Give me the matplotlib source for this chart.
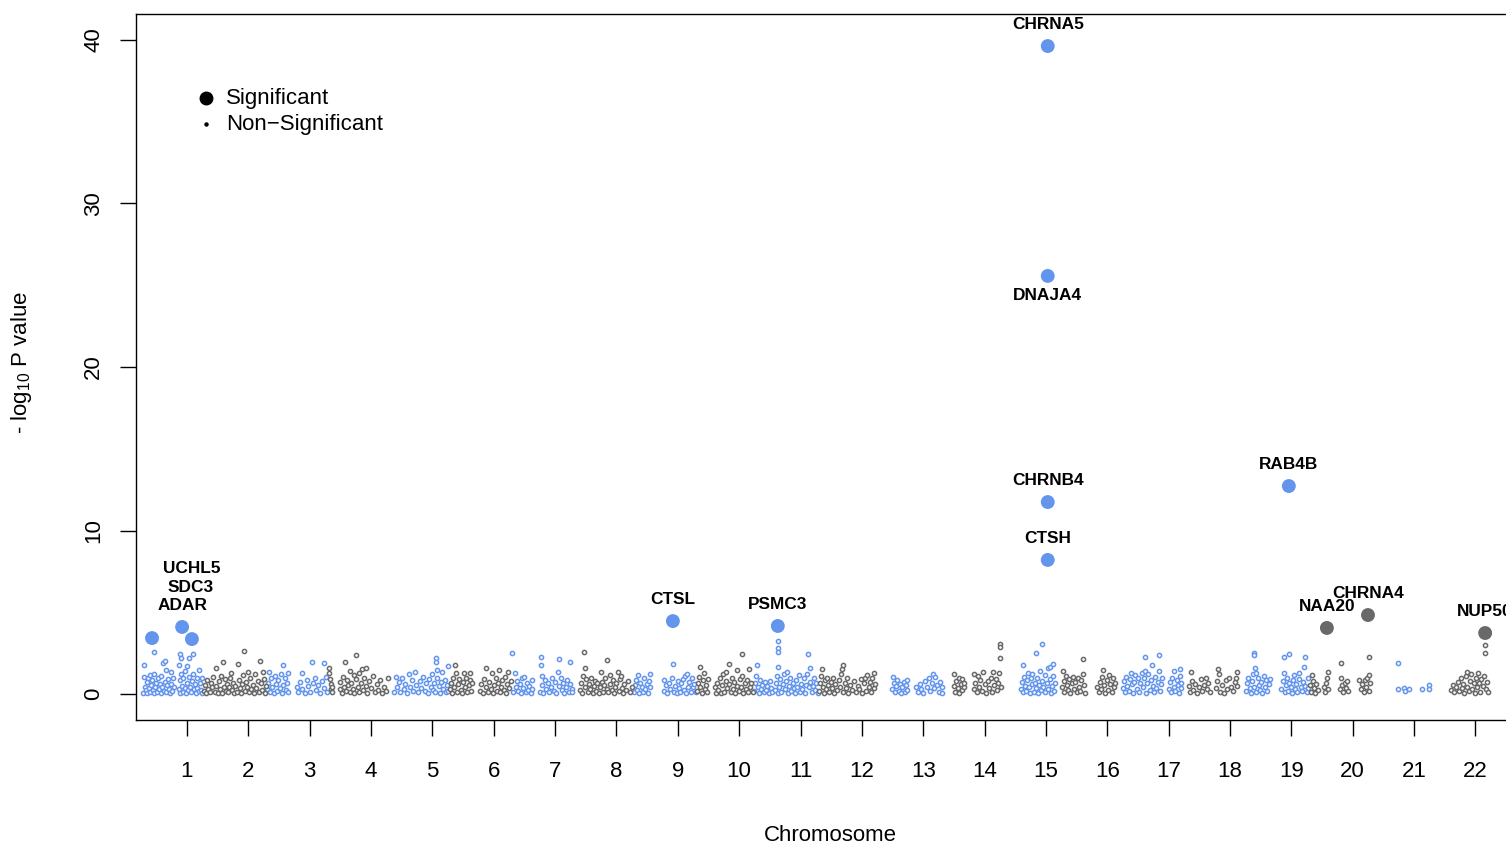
import matplotlib.pyplot as plt
import numpy as np

plt.rcParams['font.family'] = ['Liberation Sans', 'DejaVu Sans']
plt.rcParams['mathtext.fontset'] = 'custom'
plt.rcParams['mathtext.rm'] = 'Liberation Sans'
plt.rcParams['mathtext.default'] = 'regular'

BLUE = '#6495ED'
GREY = '#696969'

chromosomes = list(range(1, 23))
y_ticks = [0, 10, 20, 30, 40]

# non-significant SNPs: (position on chromosome axis, -log10 p)
blue_snps = [
    (0.29,0.08),(0.30,1.06),(0.30,1.78),(0.31,0.45),(0.33,0.22),(0.34,0.72),(0.35,0.05),(0.36,0.95),(0.38,0.35),(0.39,1.15),
    (0.40,0.12),(0.41,0.58),(0.43,0.85),(0.44,0.25),(0.46,2.55),(0.46,0.05),(0.47,1.20),(0.48,0.42),(0.50,0.70),(0.51,0.15),
    (0.53,0.98),(0.54,0.30),(0.56,0.60),(0.57,0.08),(0.58,1.12),(0.60,0.40),(0.61,1.88),(0.62,0.20),(0.64,2.04),(0.64,0.75),
    (0.65,1.47),(0.66,0.10),(0.68,0.52),(0.69,0.90),(0.71,0.28),(0.72,0.05),(0.74,1.37),(0.74,0.62),(0.76,0.18),(0.77,0.95),(0.78,0.40),
    (0.87,1.78),(0.87,0.30),(0.88,0.85),(0.89,2.43),(0.89,0.08),(0.90,2.18),(0.91,1.20),(0.92,0.50),(0.93,0.15),(0.94,0.95),
    (0.96,0.35),(0.97,1.40),(0.98,0.05),(1.00,1.71),(1.00,0.65),(1.02,0.22),(1.03,1.05),(1.04,2.18),(1.05,0.45),(1.07,0.10),
    (1.08,0.80),(1.10,2.43),(1.10,1.25),(1.11,0.30),(1.13,0.60),(1.14,0.05),(1.16,1.00),(1.17,0.38),(1.19,0.18),(1.20,1.47),
    (1.21,0.70),(1.23,0.25),(1.24,0.95),(1.25,0.08),
    (2.30,0.30),(2.32,0.70),(2.34,1.37),(2.35,0.10),(2.37,0.95),(2.39,0.45),(2.41,0.05),(2.43,1.10),(2.45,0.60),(2.47,0.20),
    (2.49,0.85),(2.51,0.35),(2.53,1.20),(2.55,0.08),(2.56,1.78),(2.57,0.55),(2.59,0.95),(2.61,0.25),(2.63,0.70),(2.65,1.27),(2.65,0.10),
    (2.79,0.40),(2.81,0.10),(2.84,0.75),(2.87,1.27),(2.88,0.30),(2.92,0.05),(2.95,0.85),(2.98,0.50),(3.01,0.15),(3.04,1.98),
    (3.05,0.65),(3.08,0.95),(3.11,0.25),(3.14,0.55),(3.17,0.08),(3.20,0.80),(3.23,1.88),(3.24,0.35),(3.27,1.05),(3.29,0.12),
    (4.38,0.10),(4.40,1.06),(4.42,0.40),(4.45,0.75),(4.48,0.15),(4.50,0.95),(4.53,0.30),(4.56,0.60),(4.59,0.05),(4.62,1.23),
    (4.63,0.45),(4.66,0.85),(4.69,0.20),(4.72,1.37),(4.73,0.55),(4.76,0.10),(4.79,0.80),(4.82,0.35),(4.85,1.05),(4.88,0.18),
    (4.90,0.65),(4.93,0.08),(4.95,0.90),(4.97,0.40),(4.99,1.20),(5.01,0.25),(5.03,0.70),(5.05,0.12),(5.06,2.18),(5.06,1.94),
    (5.07,1.45),(5.08,0.95),(5.10,0.50),(5.12,0.05),(5.14,0.75),(5.16,1.33),(5.18,0.30),(5.20,0.85),(5.22,0.10),(5.24,0.55),
    (5.26,1.74),(5.26,0.20),
    (6.30,2.53),(6.32,0.10),(6.34,1.30),(6.36,0.45),(6.38,0.80),(6.40,0.20),(6.42,0.60),(6.44,0.05),(6.46,0.95),(6.48,0.35),
    (6.50,1.06),(6.52,0.15),(6.54,0.70),(6.56,0.25),(6.58,0.50),(6.60,0.08),(6.62,0.85),(6.63,0.30),
    (6.75,0.15),(6.77,2.25),(6.77,1.78),(6.78,1.10),(6.79,0.55),(6.81,0.05),(6.83,0.85),(6.85,0.30),(6.88,0.65),(6.90,0.10),
    (6.93,0.45),(6.95,1.00),(6.98,0.20),(7.00,0.75),(7.02,0.08),(7.04,1.33),(7.06,2.14),(7.07,0.50),(7.09,0.95),(7.11,0.25),
    (7.13,0.65),(7.15,0.05),(7.18,0.40),(7.20,0.85),(7.22,0.15),(7.24,1.98),(7.25,0.60),(7.27,0.30),(7.28,0.10),
    (8.28,0.10),(8.30,0.55),(8.32,0.85),(8.34,0.25),(8.35,1.17),(8.37,0.05),(8.39,0.70),(8.41,0.40),(8.43,0.15),(8.45,0.95),
    (8.47,0.30),(8.49,0.60),(8.51,0.08),(8.53,0.80),(8.55,1.21),(8.55,0.45),
    (8.77,0.86),(8.78,0.20),(8.80,0.55),(8.83,0.08),(8.85,0.70),(8.88,0.30),(8.90,0.95),(8.92,1.82),(8.93,0.15),(8.95,0.50),
    (8.98,0.05),(9.00,0.80),(9.02,0.35),(9.04,0.10),(9.06,0.65),(9.08,0.90),(9.10,0.25),(9.12,1.10),(9.13,0.05),(9.15,1.23),
    (9.17,0.45),(9.19,0.75),(9.21,0.15),(9.23,0.95),(9.25,0.40),(9.27,0.60),(9.29,0.10),
    (10.24,0.20),(10.26,0.65),(10.28,1.10),(10.29,1.76),(10.30,0.40),(10.32,0.08),(10.34,0.85),(10.36,0.30),(10.38,0.55),
    (10.40,0.12),(10.42,0.75),(10.44,0.25),(10.46,0.50),(10.48,0.05),(10.50,0.80),(10.52,0.35),(10.54,0.15),
    (10.58,0.25),(10.60,0.70),(10.62,1.10),(10.63,3.25),(10.63,2.84),(10.63,2.55),(10.63,1.68),(10.64,0.05),(10.65,0.45),
    (10.67,0.90),(10.69,0.15),(10.71,0.60),(10.73,1.20),(10.75,0.30),(10.77,0.80),(10.78,1.33),(10.79,0.08),(10.81,0.50),
    (10.83,1.00),(10.85,0.20),(10.87,0.70),(10.89,0.35),(10.91,0.05),(10.93,0.85),(10.95,0.45),(10.97,1.15),(10.99,0.15),
    (11.01,0.60),(11.03,0.30),(11.05,0.95),(11.07,0.08),(11.09,0.55),(11.11,1.25),(11.12,2.45),(11.14,0.40),(11.15,1.61),
    (11.16,0.75),(11.18,0.10),(11.20,0.50),(11.22,1.00),(11.24,0.25),(11.26,0.65),(11.28,0.05),
    (12.49,0.30),(12.51,1.02),(12.52,0.70),(12.54,0.10),(12.56,0.50),(12.58,0.85),(12.60,0.20),(12.62,0.60),(12.64,0.05),
    (12.66,0.40),(12.68,0.75),(12.70,0.15),(12.72,0.55),(12.73,0.85),(12.74,0.25),
    (12.89,0.40),(12.91,0.15),(12.94,0.60),(12.97,0.30),(13.00,0.05),(13.03,0.80),(13.06,0.45),(13.09,1.00),(13.11,0.20),
    (13.14,0.70),(13.16,1.23),(13.18,0.35),(13.20,1.05),(13.22,0.55),(13.25,0.10),(13.28,0.75),(13.30,0.40),(13.31,0.08),
    (14.60,0.30),(14.61,0.75),(14.62,1.78),(14.63,0.10),(14.65,1.05),(14.66,0.50),(14.68,0.20),(14.70,0.85),(14.71,1.30),
    (14.72,0.40),(14.74,0.05),(14.75,0.95),(14.77,0.60),(14.78,1.20),(14.80,0.15),(14.82,0.70),(14.84,2.53),(14.84,0.35),
    (14.86,1.00),(14.87,0.08),(14.89,0.55),(14.90,1.40),(14.92,0.25),(14.94,3.06),(14.94,0.80),(14.96,0.45),(14.98,1.15),
    (14.99,0.10),(15.01,0.65),(15.03,1.57),(15.04,0.30),(15.06,0.90),(15.07,1.67),(15.08,0.05),(15.10,0.50),(15.11,1.84),
    (15.12,1.10),(15.13,0.20),(15.15,0.70),
    (16.25,0.35),(16.27,0.80),(16.29,0.10),(16.31,1.05),(16.33,0.50),(16.35,0.20),(16.37,0.90),(16.39,1.27),(16.40,0.60),
    (16.42,0.05),(16.44,0.75),(16.46,1.15),(16.48,0.30),(16.50,0.95),(16.52,0.15),(16.54,0.65),(16.56,1.30),(16.58,0.40),
    (16.60,1.00),(16.62,2.24),(16.62,1.43),(16.63,0.08),(16.65,0.70),(16.67,1.20),(16.69,0.25),(16.71,0.85),(16.73,1.78),
    (16.74,0.50),(16.76,0.10),(16.78,1.05),(16.80,0.35),(16.82,0.75),(16.84,2.39),(16.84,1.40),(16.86,0.20),(16.88,0.60),(16.90,0.95),
    (17.00,0.30),(17.02,0.75),(17.04,0.10),(17.06,1.00),(17.08,0.45),(17.09,1.43),(17.11,0.20),(17.13,0.85),(17.15,0.55),
    (17.17,0.05),(17.18,1.51),(17.19,1.10),(17.20,0.35),(17.21,0.70),
    (18.26,0.20),(18.28,0.65),(18.30,1.00),(18.32,0.35),(18.34,0.08),(18.36,0.80),(18.38,1.20),(18.39,0.45),(18.40,2.49),
    (18.40,2.39),(18.41,1.57),(18.42,1.30),(18.43,0.15),(18.45,0.95),(18.47,0.55),(18.49,0.25),(18.51,0.75),(18.53,0.05),
    (18.55,1.10),(18.57,0.40),(18.59,0.85),(18.61,0.20),(18.63,0.60),(18.65,0.90),
    (18.84,0.30),(18.86,0.80),(18.88,2.24),(18.88,1.27),(18.89,0.10),(18.91,0.55),(18.93,1.00),(18.95,0.20),(18.96,2.45),
    (18.97,0.70),(18.99,0.40),(19.01,0.05),(19.03,0.85),(19.05,1.15),(19.06,0.30),(19.08,0.60),(19.10,0.12),(19.12,1.27),
    (19.13,0.90),(19.15,0.45),(19.17,0.20),(19.19,0.75),(19.21,1.67),(19.22,2.24),(19.23,0.50),(19.25,0.10),(19.27,0.95),(19.28,0.35),
    (20.74,1.88),(20.74,0.29),(20.84,0.35),(20.85,0.20),(20.92,0.30),(21.13,0.29),(21.24,0.55),(21.24,0.29),
]

grey_snps = [
    (1.28,0.20),(1.30,0.55),(1.31,0.05),(1.33,0.86),(1.35,0.30),(1.37,0.10),(1.39,0.65),(1.41,0.40),(1.43,1.05),(1.45,0.15),
    (1.47,1.57),(1.48,0.50),(1.50,0.08),(1.52,0.78),(1.54,0.30),(1.56,1.10),(1.57,0.05),(1.59,1.98),(1.60,0.45),(1.62,0.90),
    (1.63,0.20),(1.65,0.62),(1.67,0.10),(1.69,0.40),(1.70,1.00),(1.72,1.27),(1.73,0.25),(1.75,0.70),(1.77,0.05),(1.79,0.48),
    (1.81,0.15),(1.83,1.84),(1.84,0.85),(1.86,0.35),(1.88,0.08),(1.90,0.60),(1.92,1.15),(1.93,2.65),(1.94,0.20),(1.96,0.75),
    (1.98,0.42),(1.99,1.37),(2.01,0.10),(2.03,0.95),(2.05,0.30),(2.07,0.58),(2.09,0.05),(2.11,1.20),(2.13,0.38),(2.15,0.80),
    (2.17,0.15),(2.19,2.04),(2.20,0.65),(2.22,0.25),(2.24,1.37),(2.25,0.90),(2.27,0.08),(2.28,0.50),
    (3.31,1.60),(3.32,1.30),(3.33,0.90),(3.34,0.60),(3.35,0.30),(3.36,0.10),(3.37,0.45),
    (3.49,0.30),(3.50,0.75),(3.52,0.08),(3.54,1.05),(3.56,0.45),(3.58,1.98),(3.59,0.20),(3.61,0.85),(3.63,0.55),(3.65,1.40),
    (3.66,0.10),(3.68,0.65),(3.70,0.30),(3.72,1.15),(3.73,0.05),(3.75,2.37),(3.76,0.90),(3.78,0.40),(3.80,1.30),(3.81,0.15),
    (3.83,0.70),(3.85,1.55),(3.87,0.25),(3.89,1.00),(3.91,0.50),(3.92,1.60),(3.94,0.08),(3.97,0.80),(4.00,0.35),(4.03,1.10),
    (4.06,0.12),(4.09,0.60),(4.12,0.25),(4.15,0.85),(4.18,0.05),(4.21,0.45),(4.24,0.20),(4.28,0.97),
    (5.28,0.30),(5.30,0.70),(5.32,0.08),(5.34,0.95),(5.36,0.45),(5.37,1.78),(5.38,1.27),(5.40,0.15),(5.42,0.60),(5.44,0.90),
    (5.46,0.25),(5.48,0.05),(5.50,0.75),(5.52,1.29),(5.53,0.40),(5.55,1.00),(5.57,0.12),(5.59,0.55),(5.61,0.85),(5.62,1.29),
    (5.63,0.20),(5.65,0.65),
    (5.77,0.20),(5.79,0.60),(5.82,0.08),(5.84,0.90),(5.87,1.61),(5.88,0.40),(5.91,0.15),(5.93,0.75),(5.95,0.30),(5.97,1.27),
    (5.99,0.05),(6.01,0.55),(6.03,0.95),(6.05,0.20),(6.07,0.70),(6.09,1.47),(6.10,0.10),(6.12,0.45),(6.14,0.85),(6.16,0.25),
    (6.18,1.05),(6.20,0.05),(6.22,0.60),(6.23,1.33),(6.25,0.35),(6.28,0.80),
    (7.40,0.25),(7.42,0.70),(7.44,0.05),(7.46,1.10),(7.47,2.57),(7.48,1.60),(7.49,0.40),(7.51,0.90),(7.53,0.15),(7.55,0.60),
    (7.57,0.30),(7.59,1.00),(7.61,0.08),(7.63,0.50),(7.65,0.80),(7.67,0.20),(7.69,0.65),(7.71,0.05),(7.73,0.40),(7.75,1.33),
    (7.76,0.75),(7.78,0.15),(7.80,0.55),(7.82,0.95),(7.84,0.30),(7.85,2.08),(7.87,0.10),(7.89,1.14),(7.90,0.60),(7.92,0.25),
    (7.94,0.85),(7.96,0.05),(7.98,0.45),(8.00,0.70),(8.03,1.37),(8.04,0.20),(8.06,0.90),(8.07,1.10),(8.09,0.35),(8.11,0.08),
    (8.13,0.60),(8.16,0.25),(8.19,0.80),(8.22,0.12),(8.25,0.45),
    (9.31,0.20),(9.33,0.70),(9.35,1.05),(9.36,1.63),(9.37,0.40),(9.39,0.08),(9.41,0.85),(9.43,1.27),(9.44,0.30),(9.46,0.55),
    (9.48,0.12),(9.50,0.90),
    (9.60,0.40),(9.62,0.08),(9.64,0.70),(9.66,0.25),(9.68,0.95),(9.70,0.05),(9.72,0.55),(9.74,1.20),(9.76,0.15),(9.78,0.80),
    (9.79,1.33),(9.81,0.35),(9.83,1.84),(9.84,0.60),(9.86,0.10),(9.88,1.00),(9.90,0.30),(9.92,0.75),(9.94,0.05),(9.96,1.45),
    (9.97,0.50),(9.99,0.20),(10.01,0.90),(10.03,0.40),(10.05,2.47),(10.05,1.10),(10.07,0.08),(10.09,0.65),(10.11,0.30),
    (10.13,0.85),(10.15,0.15),(10.16,1.55),(10.18,0.45),(10.20,0.70),(10.22,0.10),
    (11.30,0.20),(11.32,0.65),(11.34,1.10),(11.35,1.55),(11.36,0.40),(11.38,0.05),(11.40,0.85),(11.42,0.30),(11.44,0.97),
    (11.45,0.55),(11.47,0.12),(11.49,0.75),(11.51,0.35),(11.53,1.00),(11.55,0.05),(11.57,0.60),(11.59,0.25),(11.62,0.85),
    (11.64,0.45),(11.66,1.20),(11.68,1.50),(11.69,1.78),(11.70,0.15),(11.72,0.70),(11.74,0.35),(11.76,0.95),(11.78,0.08),
    (11.81,0.55),(11.84,0.25),(11.87,0.80),(11.90,0.10),(11.93,0.50),(11.96,0.30),(11.98,0.90),(12.00,0.05),(12.03,0.65),
    (12.05,1.00),(12.07,0.20),(12.09,1.17),(12.11,0.45),(12.13,0.75),(12.15,0.10),(12.17,0.95),(12.19,0.35),(12.20,1.27),(12.22,0.60),
    (13.50,1.23),(13.50,0.50),(13.52,0.15),(13.54,0.80),(13.56,0.35),(13.58,0.95),(13.59,0.05),(13.61,0.60),(13.63,0.25),
    (13.64,0.90),(13.66,0.40),(13.66,0.70),
    (13.82,0.30),(13.83,1.23),(13.85,0.70),(13.87,0.10),(13.89,1.10),(13.91,0.45),(13.93,0.85),(13.96,0.20),(13.98,1.37),
    (14.00,0.60),(14.02,0.05),(14.05,0.80),(14.08,0.35),(14.10,1.00),(14.12,0.15),(14.14,1.37),(14.16,0.55),(14.18,0.90),
    (14.20,0.25),(14.22,0.70),(14.24,1.30),(14.25,3.05),(14.25,2.90),(14.25,2.18),(14.26,0.45),
    (15.27,0.40),(15.28,1.43),(15.29,0.80),(15.30,0.10),(15.32,1.10),(15.34,0.55),(15.36,0.25),(15.38,0.90),(15.40,0.05),
    (15.42,0.65),(15.44,1.05),(15.46,0.30),(15.48,0.75),(15.50,0.12),(15.52,0.95),(15.54,0.45),(15.56,0.20),(15.58,0.85),
    (15.60,2.16),(15.61,1.20),(15.62,0.55),(15.63,0.08),
    (15.84,0.40),(15.86,0.10),(15.88,0.75),(15.90,0.30),(15.92,1.05),(15.93,1.47),(15.95,0.55),(15.97,0.05),(15.99,0.85),
    (16.01,0.25),(16.03,1.15),(16.05,0.60),(16.07,0.15),(16.09,0.95),(16.11,0.40),(16.12,0.70),
    (17.33,0.50),(17.35,0.10),(17.36,1.35),(17.38,0.80),(17.40,0.25),(17.43,0.60),(17.46,0.08),(17.49,0.40),(17.52,0.90),
    (17.55,0.20),(17.58,0.55),(17.61,0.95),(17.63,0.30),(17.65,0.70),(17.67,0.12),
    (17.77,0.35),(17.79,0.80),(17.81,1.53),(17.82,1.25),(17.84,0.15),(17.87,0.55),(17.90,0.05),(17.93,0.85),(17.96,0.30),
    (17.99,1.00),(18.02,0.45),(18.05,0.20),(18.08,0.75),(18.10,0.95),(18.12,1.37),(18.12,0.50),
    (19.30,0.55),(19.32,0.15),(19.33,1.17),(19.35,0.80),(19.37,0.35),(19.39,0.05),(19.41,0.60),(19.43,0.25),
    (19.53,0.40),(19.55,0.12),(19.57,0.70),(19.59,0.95),(19.60,1.37),(19.60,0.30),
    (19.79,0.30),(19.81,1.92),(19.81,0.95),(19.83,0.55),(19.85,0.10),(19.87,0.70),(19.89,0.35),(19.91,0.80),(19.92,0.20),
    (20.10,0.86),(20.14,0.30),(20.16,0.60),(20.18,0.10),(20.20,0.85),(20.22,0.45),(20.24,1.00),(20.26,0.20),(20.27,2.24),
    (20.27,1.17),(20.28,0.70),
    (21.61,0.25),(21.63,0.55),(21.65,0.10),(21.68,0.40),(21.71,0.75),(21.73,0.20),(21.76,0.95),(21.78,0.35),(21.80,0.60),
    (21.82,0.08),(21.84,1.10),(21.86,1.33),(21.87,0.45),(21.89,0.20),(21.91,0.80),(21.93,1.20),(21.95,0.30),(21.97,0.65),
    (21.99,0.05),(22.01,1.00),(22.03,0.40),(22.05,1.27),(22.06,0.70),(22.08,0.15),(22.10,0.90),(22.12,0.50),(22.14,1.10),
    (22.16,3.02),(22.16,2.53),(22.17,0.30),(22.19,0.75),(22.21,0.10),
]

# significant genes
sig_genes = ['ADAR', 'UCHL5', 'SDC3', 'CTSL', 'PSMC3', 'CHRNA5', 'DNAJA4',
             'CHRNB4', 'CTSH', 'RAB4B', 'NAA20', 'CHRNA4', 'NUP50']
sig_pos = [0.43, 0.92, 1.08, 8.92, 10.63, 15.03, 15.03, 15.03, 15.03, 18.96, 19.58, 20.25, 22.16]
sig_logp = [3.42, 4.10, 3.36, 4.46, 4.16, 39.63, 25.57, 11.74, 8.20, 12.72, 4.04, 4.83, 3.73]
sig_blue = [True, True, True, True, True, True, True, True, True, True, False, False, False]

# label offsets in points (most sit just above the dot)
label_offsets = {'ADAR': (21.6, 23.8), 'UCHL5': (7.2, 41.8), 'SDC3': (-0.7, 37.4),
                 'DNAJA4': (0, -14.4)}

fig = plt.figure(figsize=(15.06, 8.46), dpi=100)
W, H = 1506, 846
# plot region: left 136px, right 1524px (cut off by the image), top 14px, bottom 720px
ax = fig.add_axes([136 / W, (H - 720) / H, (1524 - 136) / W, (720 - 14) / H])

bx = np.array([p[0] for p in blue_snps])
by = np.array([p[1] for p in blue_snps])
gx = np.array([p[0] for p in grey_snps])
gy = np.array([p[1] for p in grey_snps])

ax.scatter(bx, by, s=9, facecolors='white', edgecolors=BLUE, linewidths=1.1, zorder=2)
ax.scatter(gx, gy, s=9, facecolors='white', edgecolors=GREY, linewidths=1.1, zorder=2)

sig_cols = [BLUE if b else GREY for b in sig_blue]
ax.scatter(sig_pos, sig_logp, s=100, c=sig_cols, edgecolors='none', zorder=3)

for gene, x, y in zip(sig_genes, sig_pos, sig_logp):
    off = label_offsets.get(gene, (0, 15.5))
    ax.annotate(gene, (x, y), xytext=off, textcoords='offset points',
                ha='center', va='center', fontsize=12.4, fontweight='bold',
                annotation_clip=False, zorder=4)

ax.set_xlim(1 - 51 / 61.35, 1 + (1524 - 187) / 61.35)
ax.set_ylim(-26 / 16.35, 40 + 26 / 16.35)

ax.set_xticks(chromosomes)
ax.set_xticklabels([str(c) for c in chromosomes])
ax.set_yticks(y_ticks)
ax.set_yticklabels([str(t) for t in y_ticks], rotation=90, va='center')
ax.tick_params(axis='both', length=11.5, width=1.0, labelsize=16, direction='out')
ax.tick_params(axis='x', pad=18)
ax.tick_params(axis='y', pad=11.5)
for sp in ax.spines.values():
    sp.set_linewidth(1.0)

# legend keys
ax.plot([0.0504], [0.881], 'o', color='black', markersize=9, transform=ax.transAxes, clip_on=False)
ax.plot([0.0504], [0.844], 'o', color='black', markersize=2.2, transform=ax.transAxes, clip_on=False)
ax.text(0.0648, 0.881, 'Significant', transform=ax.transAxes, fontsize=16, va='center', ha='left')
ax.text(0.0648, 0.844, 'Non\u2212Significant', transform=ax.transAxes, fontsize=16, va='center', ha='left')

fig.text(830 / W, 1 - 835 / H, 'Chromosome', fontsize=16, ha='center', va='center')
fig.text(22 / W, 1 - 363 / H, r'- log$_{10}$ P value', fontsize=16, rotation=90,
         ha='center', va='center')

fig.savefig('out.png', dpi=100)
